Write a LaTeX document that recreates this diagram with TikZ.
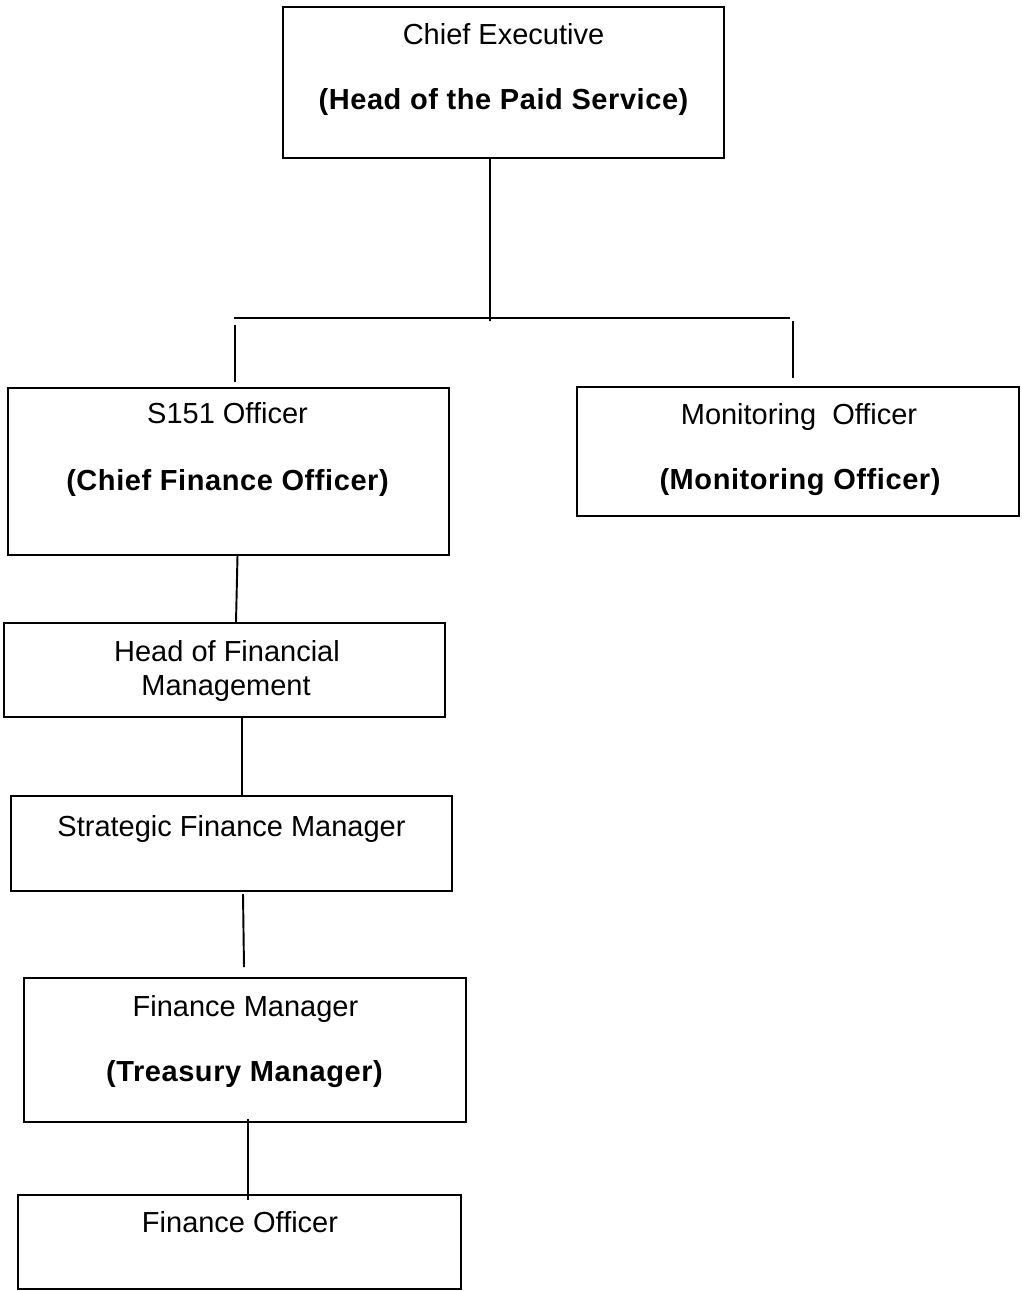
\documentclass[tikz,border=0pt]{standalone}
\usepackage{fontspec}
\setmainfont{Liberation Sans}
\newfontfamily\rolefont[LetterSpace=2.0]{Liberation Sans}

\begin{document}
\begin{tikzpicture}[x=0.02cm, y=-0.02cm, line width=1.1pt,
        box/.style = {draw, rectangle, minimum width=8.82cm},
        txt/.style = {anchor=base, inner sep=0pt, font=\fontsize{16.5}{19}\selectfont},
        bold/.style = {txt, font=\fontsize{16.5}{19}\rolefont\bfseries}]
    \useasboundingbox (0,0) rectangle (1021,1291);

        \node[box, minimum height=3.02cm] (ce) at (503.5,82.5) {};
        \node[box, minimum height=3.34cm] (s151) at (228.5,471.5) {};
        \node[box, minimum width=8.84cm, minimum height=2.58cm] (mo) at (798,451.5) {};
        \node[box, minimum height=1.88cm] (hfm) at (224.5,670) {};
        \node[box, minimum height=1.9cm] (sfm) at (231.5,843.5) {};
        \node[box, minimum width=8.84cm, minimum height=2.88cm] (fm) at (245,1050) {};
        \node[box, minimum width=8.86cm, minimum height=1.88cm] (fo) at (239.5,1242) {};

        \node[txt] (ce1) at (503.5,45) {Chief Executive};
        \node[bold] (ce2) at (503.5,110) {(Head of the Paid Service)};
        \node[txt] (s1) at (227.5,423) {S151 Officer};
        \node[bold] (s2) at (227.5,490) {(Chief Finance Officer)};
        \node[txt] (mo1) at (799,424) {Monitoring\ \ Officer};
        \node[bold] (mo2) at (800,489) {(Monitoring Officer)};
        \node[txt] (h1) at (227,661) {Head of Financial};
        \node[txt] (h2) at (226,695) {Management};
        \node[txt] (sf1) at (231.5,836) {Strategic Finance Manager};
        \node[txt] (fm1) at (245.5,1016) {Finance Manager};
        \node[bold] (fm2) at (244.5,1081) {(Treasury Manager)};
        \node[txt] (fo1) at (240,1232) {Finance Officer};

        % top of the tree
        \coordinate (ce-j) at (490,321);
        \draw ([xshift=-0.27cm]ce.south) -- (ce-j);
        \coordinate (bar-l) at (234,318);
        \coordinate (bar-r) at (790,318);
        \draw (bar-l) -- (bar-r);
        \coordinate (s151-a) at (235,325);
        \coordinate (s151-b) at (235,382);
        \draw (s151-a) -- (s151-b);
        \coordinate (mo-a) at (793,321);
        \coordinate (mo-b) at (793,378);
        \draw (mo-a) -- (mo-b);

        % finance line
        \draw ([xshift=0.18cm]s151.south) -- ([xshift=0.23cm]hfm.north);
        \draw ([xshift=0.35cm]hfm.south) -- ([xshift=0.21cm]sfm.north);
        \coordinate (sfm-a) at (243,894);
        \coordinate (sfm-b) at (244,967);
        \draw (sfm-a) -- (sfm-b);
        \coordinate (fm-a) at (248,1119);
        \coordinate (fm-b) at (248,1200);
        \draw (fm-a) -- (fm-b);

    \end{tikzpicture}
\end{document}
